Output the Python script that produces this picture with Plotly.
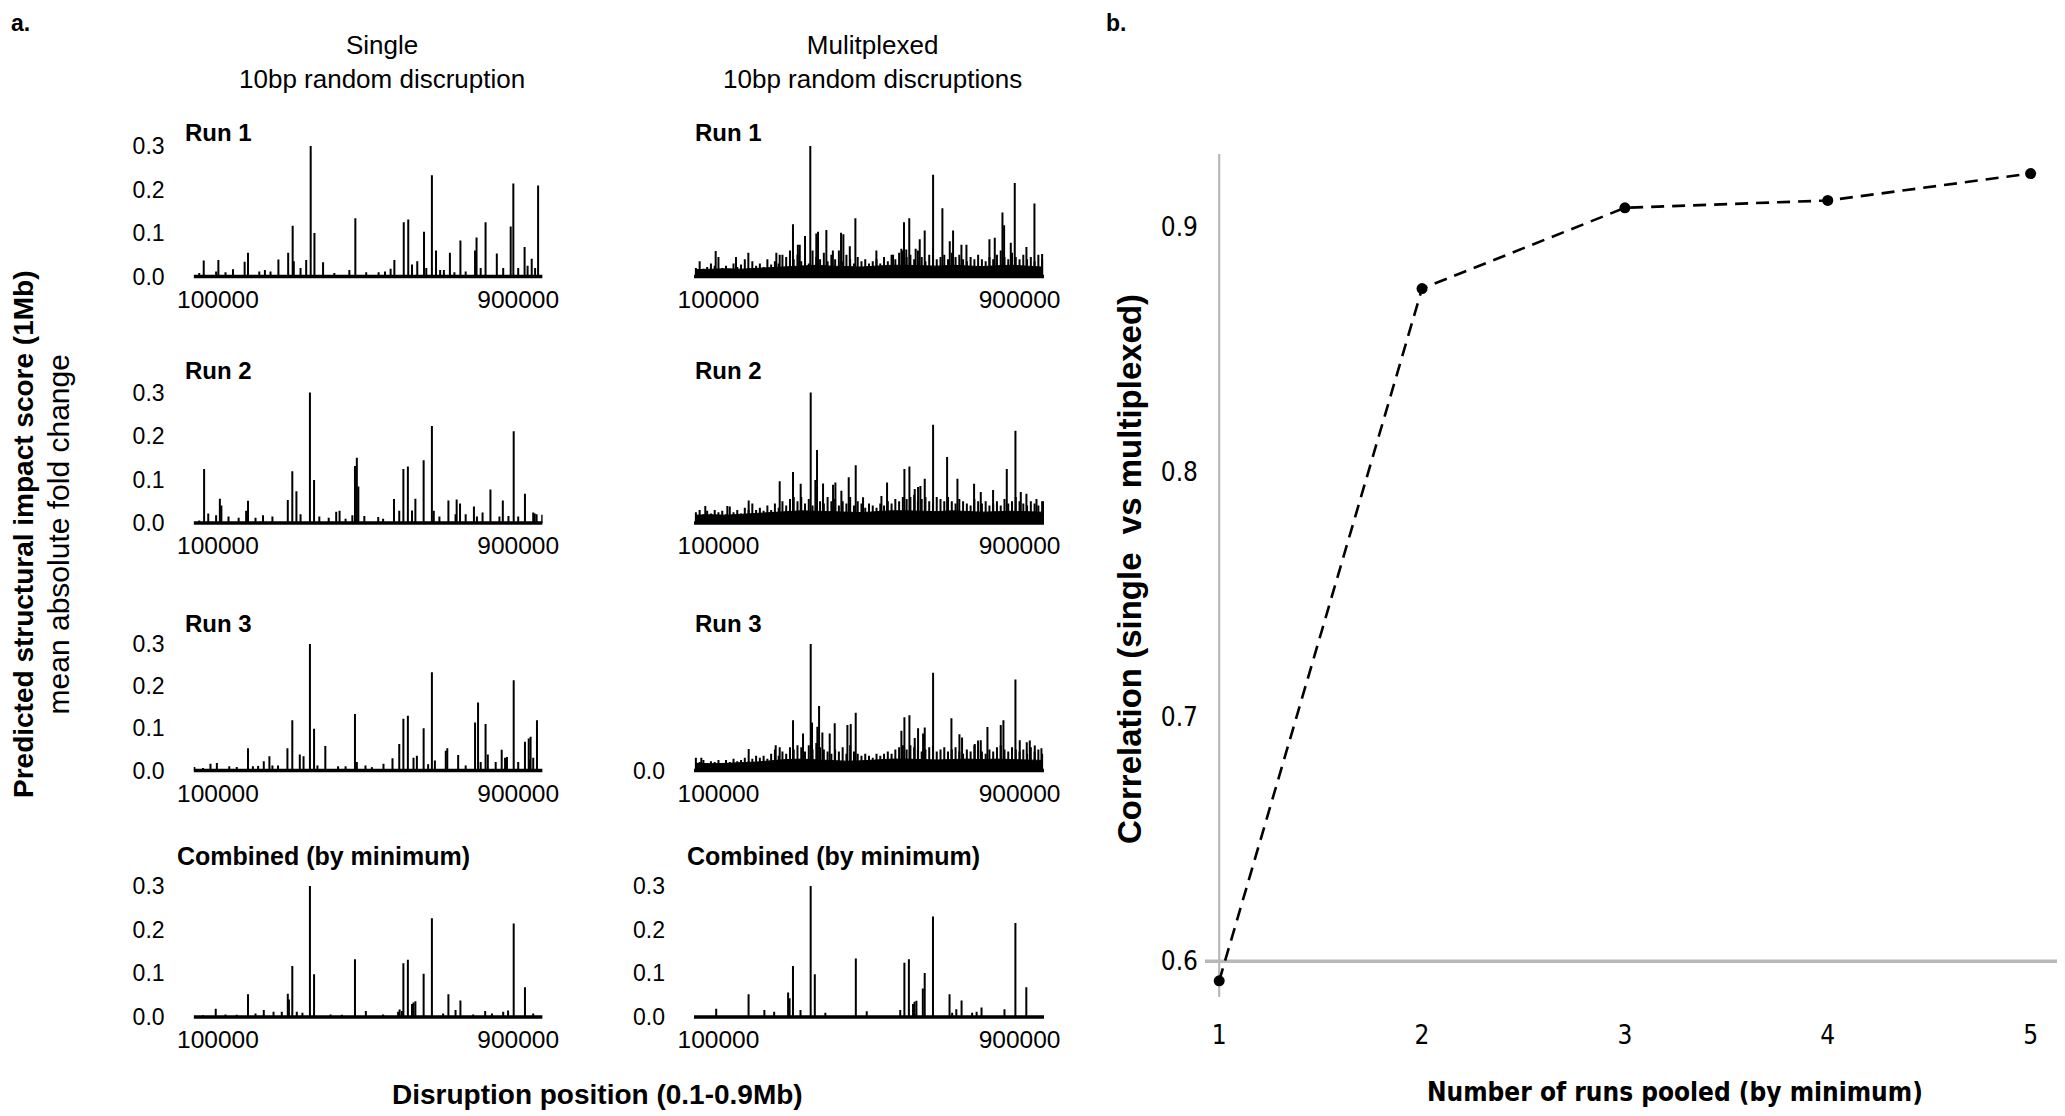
import plotly.graph_objects as go

W, H = 2065, 1116
PAGE_OFFSET = 8  # default body margin of the written page
X_START, X_END = 35000, 965000

# ---------------- panel a: single 10bp disruption (position, score) ----------------
S1_POS = [50000, 62000, 95000, 101000, 120000, 140000, 171000, 180000, 210000, 225000, 240000, 261000,
          287000, 299000, 302000, 320000, 335000, 347000, 357000, 380000, 410000, 450000, 466000, 495000,
          528000, 545000, 560000, 570000, 595000, 607000, 617000, 631000, 649000, 655000, 670000, 681000,
          692000, 702000, 718000, 730000, 746000, 760000, 785000, 789000, 800000, 813000, 843000, 860000,
          880000, 887000, 900000, 917000, 925000, 936000, 945000, 953000]
S1_VAL = [0.008, 0.037, 0.012, 0.038, 0.010, 0.017, 0.034, 0.055, 0.012, 0.015, 0.012, 0.039,
          0.055, 0.117, 0.035, 0.020, 0.038, 0.300, 0.100, 0.033, 0.008, 0.015, 0.134, 0.010,
          0.010, 0.012, 0.018, 0.038, 0.125, 0.131, 0.028, 0.035, 0.103, 0.020, 0.233, 0.060,
          0.015, 0.015, 0.055, 0.010, 0.083, 0.012, 0.060, 0.090, 0.020, 0.125, 0.053, 0.020,
          0.115, 0.214, 0.020, 0.068, 0.025, 0.041, 0.020, 0.209]

S2_POS = [50000, 63000, 74000, 95000, 105000, 109000, 128000, 155000, 175000, 180000, 200000, 220000,
          245000, 286000, 298000, 309000, 320000, 345000, 356000, 370000, 395000, 415000, 424000, 440000,
          458000, 465000, 470000, 474000, 490000, 527000, 540000, 569000, 583000, 594000, 606000, 617000,
          626000, 648000, 670000, 675000, 690000, 714000, 733000, 736000, 745000, 760000, 782000, 790000,
          805000, 826000, 850000, 859000, 874000, 888000, 900000, 918000, 940000, 944000, 949000, 964000]
S2_VAL = [0.006, 0.124, 0.022, 0.018, 0.056, 0.040, 0.015, 0.012, 0.028, 0.051, 0.012, 0.018,
          0.015, 0.053, 0.119, 0.073, 0.020, 0.300, 0.099, 0.015, 0.012, 0.026, 0.028, 0.010,
          0.018, 0.131, 0.150, 0.084, 0.016, 0.014, 0.010, 0.055, 0.028, 0.124, 0.130, 0.029,
          0.056, 0.144, 0.223, 0.028, 0.015, 0.052, 0.020, 0.054, 0.045, 0.020, 0.038, 0.015,
          0.024, 0.077, 0.015, 0.052, 0.016, 0.211, 0.015, 0.067, 0.024, 0.022, 0.020, 0.019]

S3_POS = [37000, 60000, 80000, 97000, 130000, 150000, 180000, 193000, 207000, 222000, 237000, 245000,
          260000, 285000, 298000, 318000, 328000, 345000, 356000, 365000, 386000, 420000, 440000, 465000,
          470000, 493000, 510000, 541000, 565000, 583000, 594000, 606000, 621000, 630000, 648000, 660000,
          670000, 678000, 707000, 711000, 740000, 760000, 785000, 793000, 800000, 813000, 819000, 840000,
          856000, 865000, 870000, 888000, 900000, 918000, 928000, 931000, 933000, 940000, 950000]
S3_VAL = [0.008, 0.006, 0.016, 0.018, 0.010, 0.008, 0.053, 0.010, 0.011, 0.022, 0.034, 0.012,
          0.012, 0.053, 0.119, 0.038, 0.034, 0.300, 0.099, 0.012, 0.058, 0.010, 0.010, 0.134,
          0.020, 0.012, 0.008, 0.016, 0.029, 0.063, 0.123, 0.130, 0.030, 0.035, 0.100, 0.015,
          0.233, 0.024, 0.047, 0.053, 0.037, 0.012, 0.114, 0.161, 0.020, 0.110, 0.038, 0.020,
          0.049, 0.030, 0.032, 0.214, 0.020, 0.068, 0.076, 0.026, 0.080, 0.030, 0.119]

SC_POS = [60000, 94000, 120000, 150000, 180000, 200000, 222000, 248000, 270000, 286000, 289000, 298000,
          310000, 325000, 345000, 356000, 400000, 430000, 465000, 494000, 540000, 580000, 584000, 590000,
          594000, 606000, 617000, 621000, 626000, 648000, 670000, 700000, 714000, 733000, 746000, 780000,
          812000, 830000, 860000, 873000, 888000, 918000, 940000]
SC_VAL = [0.004, 0.019, 0.006, 0.005, 0.052, 0.008, 0.016, 0.012, 0.012, 0.053, 0.040, 0.117,
          0.012, 0.010, 0.300, 0.098, 0.006, 0.005, 0.132, 0.014, 0.006, 0.012, 0.017, 0.014,
          0.123, 0.131, 0.030, 0.033, 0.036, 0.099, 0.226, 0.008, 0.052, 0.016, 0.038, 0.006,
          0.014, 0.008, 0.012, 0.015, 0.214, 0.068, 0.008]

# ---------------- panel a: multiplexed 10bp disruptions ----------------
M1_POS = [92600, 146600, 179400, 253800, 262700, 298000, 311000, 316000, 330000, 344000, 360000, 364600,
          386700, 404000, 425700, 431900, 449000, 463800, 519600, 563900, 586000, 593000, 599000, 607000,
          624000, 634800, 648000, 670300, 695000, 714600, 723400, 745600, 758900, 820000, 834200, 854600,
          859000, 876700, 887300, 918300, 939600, 960000]
M1_VAL = [0.059, 0.045, 0.055, 0.055, 0.050, 0.120, 0.073, 0.073, 0.093, 0.300, 0.099, 0.103,
          0.107, 0.060, 0.101, 0.097, 0.070, 0.134, 0.060, 0.050, 0.064, 0.125, 0.062, 0.134,
          0.064, 0.086, 0.106, 0.234, 0.157, 0.081, 0.106, 0.073, 0.073, 0.086, 0.089, 0.147,
          0.118, 0.078, 0.215, 0.068, 0.168, 0.052]

M2_POS = [65000, 123600, 180300, 262700, 298100, 318500, 345100, 357500, 361900, 377900, 404500, 410700,
          426600, 446100, 464700, 484200, 533000, 548000, 594100, 607400, 621500, 630400, 636600, 648100,
          670300, 707500, 735000, 779200, 797000, 829700, 866100, 889100, 903300, 918300, 945000, 962700]
M2_VAL = [0.039, 0.039, 0.052, 0.096, 0.117, 0.090, 0.300, 0.099, 0.168, 0.091, 0.088, 0.093,
          0.074, 0.105, 0.133, 0.059, 0.062, 0.093, 0.124, 0.130, 0.078, 0.083, 0.085, 0.102,
          0.226, 0.152, 0.102, 0.090, 0.071, 0.076, 0.124, 0.212, 0.071, 0.067, 0.055, 0.050]

M3_POS = [54500, 180300, 252100, 262700, 298100, 324700, 345100, 348600, 362800, 367300, 376100, 395600,
          408900, 442600, 451400, 464700, 586100, 594100, 607400, 621500, 630400, 643700, 648100, 670300,
          719000, 740300, 747300, 781000, 789800, 797000, 814700, 850100, 857200, 889100, 900600, 919200,
          927200, 940500, 958200]
M3_VAL = [0.030, 0.051, 0.060, 0.055, 0.119, 0.088, 0.300, 0.114, 0.104, 0.153, 0.090, 0.088,
          0.112, 0.108, 0.110, 0.137, 0.094, 0.126, 0.131, 0.077, 0.100, 0.088, 0.102, 0.232,
          0.124, 0.086, 0.078, 0.063, 0.071, 0.072, 0.103, 0.108, 0.119, 0.216, 0.072, 0.067,
          0.071, 0.059, 0.053]

MC_POS = [94000, 180000, 222000, 248000, 285000, 289000, 298000, 318000, 345000, 356000, 384000, 465000,
          494000, 583000, 594000, 606000, 617000, 621000, 626000, 643000, 648000, 670000, 714000, 721000,
          732000, 746000, 774000, 786000, 799000, 860000, 889000, 918000]
MC_VAL = [0.019, 0.052, 0.016, 0.012, 0.056, 0.043, 0.117, 0.016, 0.300, 0.098, 0.010, 0.134,
          0.013, 0.016, 0.124, 0.132, 0.030, 0.035, 0.037, 0.065, 0.101, 0.230, 0.052, 0.010,
          0.018, 0.038, 0.010, 0.012, 0.022, 0.018, 0.215, 0.068]

# dense background of the multiplexed runs, read every 10 kb (40 kb .. 960 kb)
NOISE_POS = list(range(40000, 970000, 10000))
M1_NOISE = [0.020, 0.035, 0.018, 0.022, 0.030, 0.025, 0.045,
            0.020, 0.025, 0.018, 0.030, 0.022, 0.028, 0.040, 0.020, 0.035, 0.025,
            0.030, 0.022, 0.040, 0.028, 0.035, 0.030, 0.050, 0.045, 0.060, 0.040,
            0.050, 0.035, 0.040, 0.030, 0.060, 0.045, 0.040, 0.055, 0.035, 0.050,
            0.040, 0.060, 0.035, 0.050, 0.040, 0.030, 0.045, 0.035, 0.040, 0.030,
            0.035, 0.040, 0.030, 0.045, 0.035, 0.050, 0.040, 0.055, 0.060, 0.045,
            0.050, 0.040, 0.060, 0.045, 0.035, 0.050, 0.065, 0.040, 0.045, 0.050,
            0.040, 0.055, 0.045, 0.050, 0.040, 0.035, 0.045, 0.040, 0.050, 0.040,
            0.035, 0.045, 0.040, 0.050, 0.060, 0.045, 0.040, 0.055, 0.045, 0.040,
            0.050, 0.040, 0.045, 0.035, 0.050, 0.040]
M2_NOISE = [0.025, 0.030, 0.020, 0.028, 0.022, 0.030, 0.025,
            0.028, 0.020, 0.038, 0.025, 0.030, 0.022, 0.035, 0.030, 0.045, 0.030,
            0.035, 0.028, 0.040, 0.030, 0.045, 0.035, 0.050, 0.040, 0.055, 0.060,
            0.050, 0.060, 0.045, 0.055, 0.040, 0.065, 0.050, 0.045, 0.060, 0.050,
            0.055, 0.040, 0.050, 0.045, 0.060, 0.040, 0.050, 0.045, 0.035, 0.045,
            0.040, 0.035, 0.045, 0.040, 0.050, 0.045, 0.055, 0.050, 0.060, 0.055,
            0.060, 0.065, 0.050, 0.055, 0.060, 0.050, 0.045, 0.060, 0.055, 0.050,
            0.060, 0.050, 0.045, 0.055, 0.050, 0.045, 0.040, 0.055, 0.050, 0.045,
            0.050, 0.040, 0.045, 0.050, 0.040, 0.055, 0.045, 0.050, 0.060, 0.050,
            0.045, 0.040, 0.050, 0.045, 0.040, 0.050]
M3_NOISE = [0.030, 0.020, 0.025, 0.018, 0.022, 0.020, 0.025,
            0.018, 0.025, 0.020, 0.028, 0.022, 0.025, 0.030, 0.022, 0.028, 0.035,
            0.030, 0.035, 0.028, 0.040, 0.050, 0.035, 0.045, 0.040, 0.055, 0.050,
            0.060, 0.055, 0.045, 0.060, 0.050, 0.065, 0.055, 0.050, 0.045, 0.040,
            0.050, 0.045, 0.055, 0.040, 0.060, 0.045, 0.040, 0.035, 0.040, 0.035,
            0.030, 0.040, 0.035, 0.040, 0.045, 0.040, 0.050, 0.055, 0.060, 0.050,
            0.060, 0.055, 0.050, 0.045, 0.050, 0.055, 0.060, 0.045, 0.050, 0.055,
            0.045, 0.050, 0.055, 0.045, 0.040, 0.050, 0.045, 0.060, 0.050, 0.045,
            0.040, 0.050, 0.045, 0.055, 0.060, 0.050, 0.045, 0.055, 0.050, 0.045,
            0.050, 0.040, 0.055, 0.045, 0.050, 0.040]

# solid floor of the multiplexed runs, read every 40 kb
BAND_POS = list(range(40000, 1000000, 40000))
M1_BAND = [0.016, 0.017, 0.018, 0.017, 0.019, 0.020, 0.022, 0.024, 0.026, 0.024, 0.023, 0.022,
           0.024, 0.026, 0.026, 0.025, 0.024, 0.026, 0.024, 0.023, 0.025, 0.026, 0.024, 0.022]
M2_BAND = [0.018, 0.019, 0.018, 0.020, 0.022, 0.024, 0.027, 0.028, 0.027, 0.026, 0.025, 0.024,
           0.026, 0.028, 0.028, 0.027, 0.026, 0.028, 0.027, 0.025, 0.026, 0.027, 0.026, 0.025]
M3_BAND = [0.017, 0.016, 0.017, 0.018, 0.020, 0.023, 0.026, 0.027, 0.025, 0.023, 0.022, 0.023,
           0.025, 0.027, 0.027, 0.026, 0.025, 0.026, 0.027, 0.026, 0.027, 0.026, 0.025, 0.024]

# ---------------- panel b ----------------
RUNS_POOLED = [1, 2, 3, 4, 5]
CORR = [0.592, 0.875, 0.908, 0.911, 0.922]

FONT = "Liberation Sans, Arial, Helvetica, sans-serif"
NARROW = "Liberation Sans Narrow, Arial Narrow, DejaVu Sans Condensed, sans-serif"


def spikes(pos, val):
    xs, ys = [], []
    for p, v in zip(pos, val):
        xs += [p, p, None]
        ys += [0, v, None]
    return xs, ys


# page pixel -> paper fraction (the figure sits PAGE_OFFSET px in from the page corner)
def px(x):
    return (x - PAGE_OFFSET) / W


def py(y):
    return 1 - (y - PAGE_OFFSET) / H


# panel grid (page pixels): x extent per column, y pixel of 0.0 and 0.3 per row
COLS = [(193.6, 542.6), (694, 1044)]
ROWS = [(276.6, 146), (523, 392.5), (770.5, 644), (1017, 886)]
LABEL_Y = [133, 370, 623, 856]

panels = [
    # col, row, spikes, noise, band, y tick labels, title
    (0, 0, (S1_POS, S1_VAL), None, None, True, "Run 1"),
    (0, 1, (S2_POS, S2_VAL), None, None, True, "Run 2"),
    (0, 2, (S3_POS, S3_VAL), None, None, True, "Run 3"),
    (0, 3, (SC_POS, SC_VAL), None, None, True, "Combined (by minimum)"),
    (1, 0, (M1_POS, M1_VAL), M1_NOISE, M1_BAND, False, "Run 1"),
    (1, 1, (M2_POS, M2_VAL), M2_NOISE, M2_BAND, False, "Run 2"),
    (1, 2, (M3_POS, M3_VAL), M3_NOISE, M3_BAND, "zero", "Run 3"),
    (1, 3, (MC_POS, MC_VAL), None, None, True, "Combined (by minimum)"),
]

fig = go.Figure()
layout = {}
annotations = []

for i, (c, r, (sp, sv), noise, band, yticks, title) in enumerate(panels, start=1):
    xa, ya = f"x{i}", f"y{i}"
    x0, x1 = COLS[c]
    y0, y3 = ROWS[r]
    ppu = (y0 - y3) / 0.3
    lo, hi = -0.006, 0.304
    dom_bottom = y0 - lo * ppu
    dom_top = y3 - (hi - 0.3) * ppu

    if band is not None:
        fig.add_trace(go.Scatter(x=BAND_POS, y=band, mode="lines", fill="tozeroy",
                                 fillcolor="black", line=dict(color="black", width=1),
                                 xaxis=xa, yaxis=ya, showlegend=False, hoverinfo="skip"))
    if noise is not None:
        nx, ny = spikes(NOISE_POS, noise)
        fig.add_trace(go.Scatter(x=nx, y=ny, mode="lines", line=dict(color="black", width=2),
                                 xaxis=xa, yaxis=ya, showlegend=False, hoverinfo="skip"))
    fig.add_trace(go.Scatter(x=[X_START, X_END], y=[0, 0], mode="lines",
                             line=dict(color="black", width=3.5),
                             xaxis=xa, yaxis=ya, showlegend=False, hoverinfo="skip"))
    sx, sy = spikes(sp, sv)
    fig.add_trace(go.Scatter(x=sx, y=sy, mode="lines", line=dict(color="black", width=2),
                             xaxis=xa, yaxis=ya, showlegend=False, hoverinfo="skip"))

    if yticks is True:
        tv, tt = [0, 0.1, 0.2, 0.3], ["0.0", "0.1", "0.2", "0.3"]
    elif yticks == "zero":
        tv, tt = [0], ["0.0"]
    else:
        tv, tt = [], []

    sfx = "" if i == 1 else str(i)
    layout[f"xaxis{sfx}"] = dict(domain=[px(x0), px(x1)], range=[X_START, X_END], anchor=ya,
                                 tickvals=[100000, 900000], ticktext=["100000", "900000"],
                                 showgrid=False, zeroline=False, showline=False, ticks="",
                                 automargin=False, ticklabelstandoff=3,
                                 tickfont=dict(size=24.5, family=FONT))
    layout[f"yaxis{sfx}"] = dict(domain=[py(dom_bottom), py(dom_top)], range=[lo, hi], anchor=xa,
                                 tickvals=tv, ticktext=tt, showgrid=False, zeroline=False,
                                 showline=False, ticks="", automargin=False, ticklabelstandoff=28,
                                 tickfont=dict(size=23, family=FONT))
    lx = (175 if c == 0 else 685) if r == 3 else (183 if c == 0 else 693)
    annotations.append(dict(x=px(lx), y=py(LABEL_Y[r]), xref="paper", yref="paper",
                            text=f"<b>{title}</b>", showarrow=False, xanchor="left",
                            yanchor="middle", font=dict(size=24 if r < 3 else 25, family=FONT)))

# panel b
fig.add_trace(go.Scatter(x=RUNS_POOLED, y=CORR, mode="lines+markers",
                         line=dict(color="black", width=2.6, dash="13px,8px"),
                         marker=dict(color="black", size=11),
                         xaxis="x9", yaxis="y9", showlegend=False))
layout["xaxis9"] = dict(domain=[px(1205), 1.0], range=[0.93, 5.209], anchor="y9",
                        tickvals=RUNS_POOLED, ticktext=[str(v) for v in RUNS_POOLED],
                        showgrid=False, zeroline=False, showline=False, ticks="",
                        automargin=False, ticklabelstandoff=20,
                        tickfont=dict(size=26, family=NARROW))
layout["yaxis9"] = dict(domain=[py(997), py(154)], range=[0.5854, 0.930], anchor="x9",
                        tickvals=[0.6, 0.7, 0.8, 0.9], ticktext=["0.6", "0.7", "0.8", "0.9"],
                        showgrid=False, zeroline=False, showline=False, ticks="",
                        automargin=False, ticklabelstandoff=6,
                        tickfont=dict(size=26, family=NARROW))

shapes = [
    dict(type="line", xref="x9", yref="y9 domain", x0=1, x1=1, y0=0, y1=1,
         line=dict(color="#b8b8b8", width=2.2), layer="below"),
    dict(type="line", xref="x9 domain", yref="y9", x0=0, x1=1, y0=0.6, y1=0.6,
         line=dict(color="#b8b8b8", width=3.5), layer="below"),
]

annotations += [
    dict(x=px(20), y=1.0, yanchor="top", text="<b>a.</b>", font=dict(size=23, family=FONT)),
    dict(x=px(1116), y=1.0, yanchor="top", text="<b>b.</b>", font=dict(size=23, family=FONT)),
    dict(x=px(382), y=py(62), text="Single<br>10bp random discruption",
         font=dict(size=26, family=FONT)),
    dict(x=px(872), y=py(62), text="Mulitplexed<br>10bp random discruptions",
         font=dict(size=26, family=FONT)),
    dict(x=px(41), y=py(535), textangle=-90,
         text="<b>Predicted structural impact score (1Mb)</b><br>"
              "<span style='font-size:30px'>mean absolute fold change</span>",
         font=dict(size=28, family=FONT)),
    dict(x=px(597), y=py(1094), text="<b>Disruption position (0.1-0.9Mb)</b>",
         font=dict(size=28, family=FONT)),
    dict(x=px(1129), y=py(569), textangle=-90,
         text="<b>Correlation (single  vs multiplexed)</b>", font=dict(size=33, family=FONT)),
    dict(x=px(1675), y=py(1092), text="<b>Number of runs pooled (by minimum)</b>",
         font=dict(size=26, family=NARROW)),
]
for a in annotations[8:]:
    a.update(xref="paper", yref="paper", showarrow=False, xanchor="center")
    a.setdefault("yanchor", "middle")

fig.update_layout(
    width=W, height=H, margin=dict(l=0, r=0, t=0, b=0),
    paper_bgcolor="white", plot_bgcolor="white",
    font=dict(family=FONT, color="black"),
    annotations=annotations, shapes=shapes, **layout,
)

fig.write_html("out.html")
